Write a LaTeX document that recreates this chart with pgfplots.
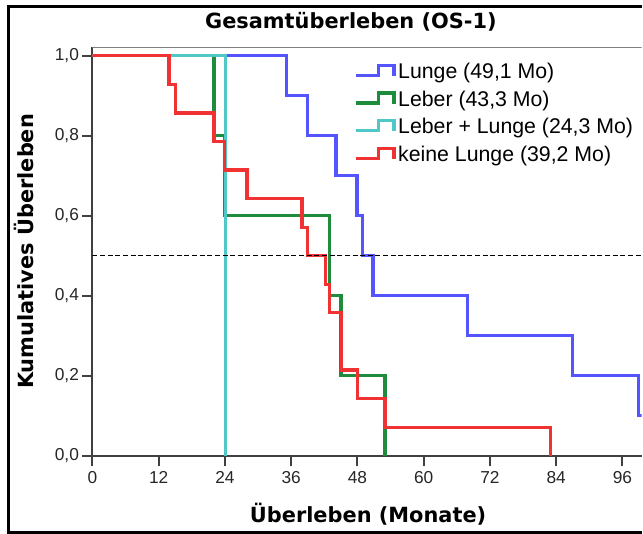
\documentclass[border=0pt]{standalone}
\usepackage{pgfplots}
\pgfplotsset{compat=1.18}
\usepackage{fontspec}
\setmainfont{Liberation Sans}
\newfontfamily\lf{DejaVu Sans}
\definecolor{cBlue}{RGB}{85,85,255}
\definecolor{cGreen}{RGB}{30,140,60}
\definecolor{cCyan}{RGB}{80,200,200}
\definecolor{cRed}{RGB}{240,50,50}
\pgfplotsset{
  kmlegend/.style={legend image code/.code={
    \draw[#1] (0pt,-2pt) -- (17.2pt,-2pt) -- (17.2pt,5.5pt) -- (28.5pt,5.5pt) -- (28.5pt,-2.5pt);}}
}
\begin{document}
\begin{tikzpicture}
\path (-69.53pt,-58.73pt) rectangle (412.72pt,342.53pt);
\begin{axis}[
  at={(0pt,0pt)}, anchor=south west,
  scale only axis, width=412.72pt, height=307.05pt,
  xmin=0, xmax=99.45, ymin=0, ymax=1.0217,
  axis lines*=left,
  axis line style={-, draw=black!75, line width=1.5pt},
  xtick={0,12,...,96}, ytick={0,0.2,0.4,0.6,0.8,1.0},
  tick align=outside, major tick length=8pt,
  tick style={draw=black!75, line width=1.5pt},
  /pgf/number format/assume math mode=true,
  tick label style={font=\fontsize{13}{15}\selectfont, text=black!85},
  yticklabel style={/pgf/number format/fixed, /pgf/number format/fixed zerofill,
    /pgf/number format/precision=1, /pgf/number format/use comma, inner xsep=2pt},
  xlabel={\lf\bfseries Überleben (Monate)},
  xlabel style={at={(axis description cs:0.502,-0.1645)}, anchor=base, font=\fontsize{15.7}{18}\selectfont},
  ylabel={\lf\bfseries Kumulatives Überleben},
  ylabel style={at={(axis description cs:-0.1078,0.5)}, anchor=base, font=\fontsize{15.7}{18}\selectfont},
  title={\lf\bfseries Gesamtüberleben (OS-1)},
  title style={at={(axis description cs:0.4707,1.0085)}, font=\fontsize{15.7}{18}\selectfont},
  legend style={at={(axis description cs:0.4766,1)}, anchor=north west, yshift=-11.25pt,
    draw=none, fill=none, inner sep=0pt, row sep=5.3pt,
    font=\fontsize{16}{19}\selectfont,
    nodes={inner ysep=0pt, text height=12pt, text depth=3.5pt}},
  legend cell align=left,
  every axis plot/.append style={line width=2.4pt},
]
\addplot[kmlegend, cBlue, const plot] coordinates {
 (0,1) (35.1,0.9) (39.0,0.8) (44.1,0.7) (47.9,0.6) (48.9,0.5) (50.8,0.4) (67.9,0.3) (87.0,0.2) (98.9,0.1) (101,0.1)};
\addlegendentry{Lunge (49,1 Mo)}
\addplot[kmlegend, cGreen, const plot] coordinates {
 (0,1) (22.0,0.8) (23.9,0.6) (42.9,0.4) (45.0,0.2) (53.0,0)};
\addlegendentry{Leber (43,3 Mo)}
\addplot[kmlegend, cCyan, const plot] coordinates {
 (0,1) (24.1,0)};
\addlegendentry{Leber + Lunge (24,3 Mo)}
\addplot[kmlegend, cRed, const plot] coordinates {
 (0,1) (13.85,0.9286) (15.0,0.8571) (22.0,0.7857) (23.9,0.7143) (28.0,0.6429)
 (37.95,0.5714) (39.0,0.5) (42.2,0.4286) (43.0,0.3571) (45.1,0.2143) (48.0,0.1429)
 (53.0,0.0714) (83.0,0)};
\addlegendentry{keine Lunge (39,2 Mo)}
\addplot[black, line width=0.75pt, dash pattern=on 3.75pt off 2pt, forget plot] coordinates {(0,0.5) (101,0.5)};
\draw[black!50, line width=1.6pt] (rel axis cs:0,1) -- (rel axis cs:1,1);
\end{axis}
\draw[black, line width=2.25pt] (412.72pt,337.8pt) -- (-62.8pt,337.8pt) -- (-62.8pt,-57.6pt) -- (412.72pt,-57.6pt);
\end{tikzpicture}
\end{document}
